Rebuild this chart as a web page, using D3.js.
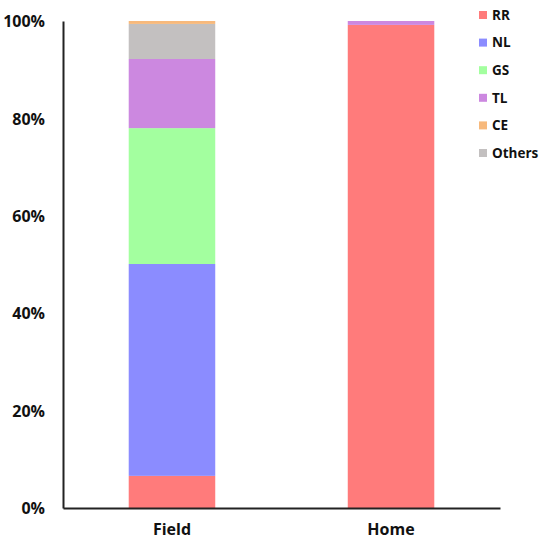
<!DOCTYPE html>
<html>
<head>
<meta charset="utf-8">
<script src="https://cdn.jsdelivr.net/npm/d3@7"></script>
<style>
  body { margin: 0; background: #fff; }
  text { font-family: "Open Sans", sans-serif; font-weight: bold; fill: #111; }
</style>
</head>
<body>
<svg width="544" height="550"></svg>
<script>
var categories = ["Field", "Home"];
var seriesNames = ["RR", "NL", "GS", "TL", "CE", "Others"];
var seriesColors = ["#ff7b7b", "#8b8cff", "#a3ff9f", "#cc88e0", "#f7b97c", "#c3c0c0"];
// stacking order bottom to top (CE sits on top of Others)
var stackOrder = ["RR", "NL", "GS", "TL", "Others", "CE"];
// percent per category, same order as seriesNames
var fieldValues = [6.6, 43.5, 27.9, 14.2, 0.6, 7.2];
var homeValues = [99.2, 0, 0, 0.8, 0, 0];
var yTicks = [0, 20, 40, 60, 80, 100];

var rows = categories.map(function(c, i) {
    var vals = i === 0 ? fieldValues : homeValues;
    var row = { cat: c };
    seriesNames.forEach(function(s, j) { row[s] = vals[j]; });
    return row;
});

var svg = d3.select("svg"),
    margin = { left: 63, right: 44, top: 21, bottom: 42 },
    width = +svg.attr("width") - margin.left - margin.right,
    height = +svg.attr("height") - margin.top - margin.bottom;

var g = svg.append("g").attr("transform", "translate(" + margin.left + "," + margin.top + ")");

var x = d3.scaleBand().domain(categories).range([0, width]).paddingInner(0.605).paddingOuter(0.3);
var y = d3.scaleLinear().domain([0, 100]).range([height, 0]);
var color = d3.scaleOrdinal().domain(seriesNames).range(seriesColors);

var stack = d3.stack().keys(stackOrder)(rows);

g.selectAll(".layer")
    .data(stack)
    .enter().append("g")
    .attr("class", "layer")
    .attr("fill", function(d) { return color(d.key); })
    .selectAll("rect")
    .data(function(d) { return d; })
    .enter().append("rect")
    .attr("x", function(d) { return x(d.data.cat); })
    .attr("width", x.bandwidth())
    .attr("y", function(d) { return y(d[1]); })
    .attr("height", function(d) { return y(d[0]) - y(d[1]); });

// y axis
var yAxis = g.append("g")
    .call(d3.axisLeft(y).tickValues(yTicks).tickSize(0).tickPadding(18)
        .tickFormat(function(d) { return d + "%"; }));
yAxis.select(".domain").attr("stroke", "#222").attr("stroke-width", 2);
yAxis.selectAll("text").style("font-size", "16px").attr("dy", "0.35em");

// x axis
var xAxis = g.append("g")
    .attr("transform", "translate(0," + height + ")")
    .call(d3.axisBottom(x).tickSize(0).tickPadding(16));
xAxis.select(".domain").attr("stroke", "#222").attr("stroke-width", 2);
xAxis.selectAll("text").style("font-size", "16px");

// legend
var legend = svg.append("g").attr("transform", "translate(479,15)");
var item = legend.selectAll(".item")
    .data(seriesNames)
    .enter().append("g")
    .attr("transform", function(d, i) { return "translate(0," + (i * 27.6) + ")"; });
item.append("rect")
    .attr("x", 0).attr("y", -4)
    .attr("width", 8).attr("height", 8)
    .attr("fill", function(d) { return color(d); });
item.append("text")
    .attr("x", 13).attr("dy", "0.35em")
    .style("font-size", "13.5px")
    .text(function(d) { return d; });
</script>
</body>
</html>
